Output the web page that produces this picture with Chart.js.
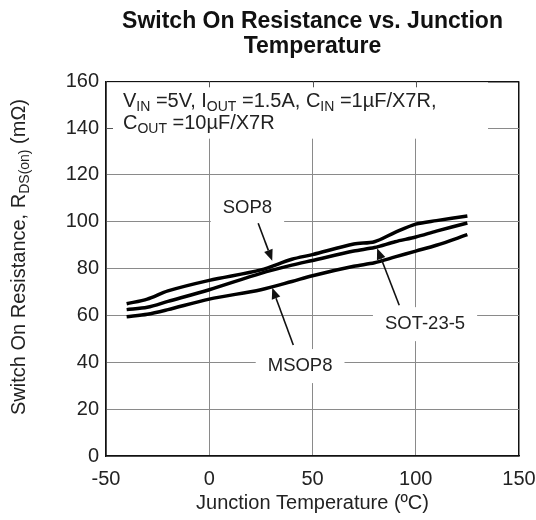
<!DOCTYPE html>
<html>
<head>
<meta charset="utf-8">
<script src="https://cdn.jsdelivr.net/npm/chart.js@4/dist/chart.umd.min.js"></script>
<style>
  html, body { margin: 0; padding: 0; background: #fff; }
  #wrap { width: 536px; height: 520px; position: relative; }
</style>
</head>
<body>
<div id="wrap"><canvas id="chart" width="536" height="520"></canvas></div>
<script>
// Switch On Resistance vs. Junction Temperature
// --------- Data ----------
const temps = [-40, -30, -20, 0, 25, 40, 50, 70, 80, 90, 100, 110, 125];
const sop8 = [65, 67, 70.5, 75, 79.5, 84, 86, 90.5, 91.5, 95.5, 99, 100.5, 102.5];
const sot235 = [62.5, 63.5, 66, 71, 78, 81.5, 83.5, 87.5, 89, 91.5, 93.5, 96, 99.5];
const msop8 = [59.5, 60.5, 62.5, 67, 71, 74.5, 77, 81, 82.5, 85, 87.5, 90, 94.5];

const xTicks = [-50, 0, 50, 100, 150];
const yTicks = [0, 20, 40, 60, 80, 100, 120, 140, 160];

// labels with arrows, in data units: label pos, arrow tail, arrow head
const callouts = [
  { text: "SOP8", at: [18.5, 106], from: [23.7, 99.4], to: [30.5, 83.4] },
  { text: "SOT-23-5", at: [104.5, 56.3], from: [92, 64.4], to: [81.3, 88.7] },
  { text: "MSOP8", at: [44, 38.4], from: [40.7, 47.4], to: [30.5, 71.8] }
];

const FONT = "'Liberation Sans', Arial, sans-serif";
const TXT = "#222";

function pts(vals) {
  return temps.map((t, i) => ({ x: t, y: vals[i] }));
}

function lineSet(vals) {
  return {
    data: pts(vals),
    borderColor: "#000",
    borderWidth: 3.5,
    pointRadius: 0,
    tension: 0.3,
    fill: false
  };
}

// draw text runs, some as subscripts
function drawRich(ctx, parts, x, y, size) {
  let cx = x;
  parts.forEach(p => {
    const sub = p[1];
    ctx.font = (sub ? Math.round(size * 0.7) : size) + "px " + FONT;
    ctx.fillText(p[0], cx, sub ? y + size * 0.3 : y);
    cx += ctx.measureText(p[0]).width;
  });
  return cx - x;
}
function richWidth(ctx, parts, size) {
  let w = 0;
  parts.forEach(p => {
    ctx.font = (p[1] ? Math.round(size * 0.7) : size) + "px " + FONT;
    w += ctx.measureText(p[0]).width;
  });
  return w;
}

function arrow(ctx, x1, y1, x2, y2) {
  const a = Math.atan2(y2 - y1, x2 - x1);
  const hl = 11, hw = 4.5;
  const bx = x2 - hl * Math.cos(a), by = y2 - hl * Math.sin(a);
  ctx.strokeStyle = "#111";
  ctx.lineWidth = 1.6;
  ctx.beginPath();
  ctx.moveTo(x1, y1);
  ctx.lineTo(bx, by);
  ctx.stroke();
  ctx.fillStyle = "#111";
  ctx.beginPath();
  ctx.moveTo(x2, y2);
  ctx.lineTo(bx + hw * Math.sin(a), by - hw * Math.cos(a));
  ctx.lineTo(bx - hw * Math.sin(a), by + hw * Math.cos(a));
  ctx.closePath();
  ctx.fill();
}

const notes = {
  id: "notes",
  beforeDatasetsDraw(chart) {
    const { ctx, chartArea: ca, scales } = chart;
    const xs = scales.x, ys = scales.y;
    ctx.save();

    // white box behind the conditions text
    ctx.fillStyle = "#fff";
    const boxBottom = ys.getPixelForValue(135.5);
    const boxRight = xs.getPixelForValue(135);
    ctx.fillRect(ca.left + 1, ca.top + 1, boxRight - ca.left - 1, boxBottom - ca.top - 1);

    // short inward ticks where the grid is hidden
    ctx.strokeStyle = "#555";
    ctx.lineWidth = 1;
    ctx.beginPath();
    [0, 50, 100].forEach(v => {
      const px = Math.round(xs.getPixelForValue(v)) + 0.5;
      ctx.moveTo(px, ca.top); ctx.lineTo(px, ca.top + 6);
    });
    const p140 = Math.round(ys.getPixelForValue(140)) + 0.5;
    ctx.moveTo(ca.left, p140); ctx.lineTo(ca.left + 7, p140);
    ctx.stroke();

    // conditions text
    ctx.fillStyle = TXT;
    ctx.textBaseline = "middle";
    ctx.textAlign = "left";
    const sz = 20;
    drawRich(ctx, [["V"], ["IN", 1], [" =5V, I"], ["OUT", 1], [" =1.5A, C"], ["IN", 1], [" =1\u00b5F/X7R,"]], ca.left + 17, ca.top + 20, sz);
    drawRich(ctx, [["C"], ["OUT", 1], [" =10\u00b5F/X7R"]], ca.left + 17, ca.top + 42, sz);

    // callout labels with white backgrounds
    callouts.forEach(c => {
      const px = xs.getPixelForValue(c.at[0]);
      const py = ys.getPixelForValue(c.at[1]);
      ctx.font = "18.5px " + FONT;
      const w = ctx.measureText(c.text).width;
      ctx.fillStyle = "#fff";
      ctx.fillRect(px - w / 2 - 12, py - 17, w + 24, 34);
      ctx.fillStyle = TXT;
      ctx.textAlign = "center";
      ctx.fillText(c.text, px, py);
    });
    ctx.restore();
  },
  afterDatasetsDraw(chart) {
    const { ctx, scales } = chart;
    ctx.save();
    callouts.forEach(c => {
      arrow(ctx,
        scales.x.getPixelForValue(c.from[0]), scales.y.getPixelForValue(c.from[1]),
        scales.x.getPixelForValue(c.to[0]), scales.y.getPixelForValue(c.to[1]));
    });
    ctx.restore();
  },
  afterDraw(chart) {
    // y axis title with subscript
    const { ctx } = chart;
    const parts = [["Switch On Resistance, R"], ["DS(on)", 1], [" (m\u03a9)"]];
    const sz = 20;
    ctx.save();
    ctx.translate(19, 257);
    ctx.rotate(-Math.PI / 2);
    ctx.fillStyle = TXT;
    ctx.textBaseline = "middle";
    ctx.textAlign = "left";
    const w = richWidth(ctx, parts, sz);
    drawRich(ctx, parts, -w / 2, 0, sz);
    ctx.restore();
  }
};

function gridColor(edgeVals) {
  return c => (c.tick && edgeVals.includes(c.tick.value)) ? "#111" : "#8a8a8a";
}

new Chart(document.getElementById("chart"), {
  type: "line",
  data: {
    datasets: [lineSet(sop8), lineSet(sot235), lineSet(msop8)]
  },
  options: {
    responsive: false,
    animation: false,
    layout: { padding: { top: 2, right: 17, bottom: 0, left: 0 } },
    plugins: {
      legend: { display: false },
      tooltip: { enabled: false },
      title: {
        display: true,
        fullSize: false,
        text: ["Switch On Resistance vs. Junction", "Temperature"],
        color: "#111",
        font: { family: FONT, size: 23, weight: "bold", lineHeight: 1.05 },
        padding: { top: 8, bottom: 23 }
      }
    },
    scales: {
      x: {
        type: "linear",
        min: -50,
        max: 150,
        afterBuildTicks: s => { s.ticks = xTicks.map(v => ({ value: v })); },
        afterFit: s => { s.height = 64; s.paddingLeft = 0; s.paddingRight = 0; },
        grid: { color: gridColor([150]), lineWidth: c => (c.tick && c.tick.value === 150) ? 1.5 : 1, drawTicks: false },
        border: { color: "#111", width: 1.5 },
        ticks: { color: TXT, font: { family: FONT, size: 20 }, padding: 11, maxRotation: 0 },
        title: {
          display: true,
          text: "Junction Temperature (\u00baC)",
          color: TXT,
          font: { family: FONT, size: 20 },
          padding: { top: 0, bottom: 5 }
        }
      },
      y: {
        type: "linear",
        min: 0,
        max: 160,
        afterBuildTicks: s => { s.ticks = yTicks.map(v => ({ value: v })); },
        afterFit: s => { s.width = 106; },
        grid: { color: gridColor([160]), lineWidth: c => (c.tick && c.tick.value === 160) ? 1.5 : 1, drawTicks: false },
        border: { color: "#111", width: 1.5 },
        ticks: { color: TXT, font: { family: FONT, size: 20 }, padding: 7 }
      }
    }
  },
  plugins: [notes]
});
</script>
</body>
</html>
